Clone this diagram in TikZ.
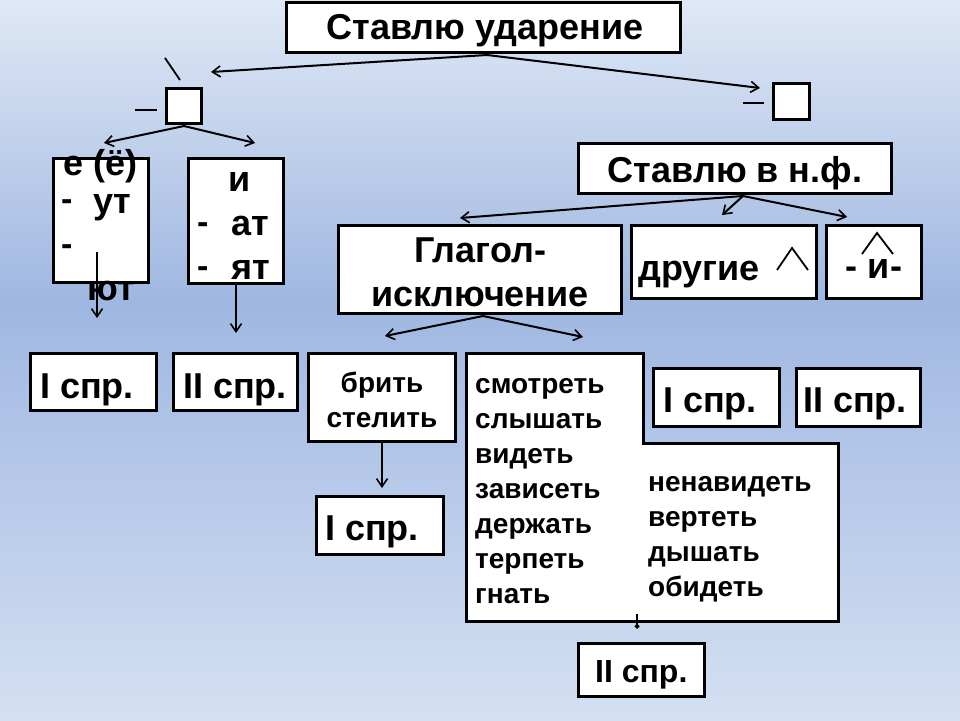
\documentclass[tikz,border=0pt]{standalone}
\usepackage{fontspec}
\setmainfont{Liberation Sans}
\usetikzlibrary{arrows.meta}
\definecolor{bgtop}{HTML}{DFE8F5}
\definecolor{bgmid}{HTML}{9FB7E1}
\definecolor{bgbot}{HTML}{D4E0F2}
\begin{document}
\begin{tikzpicture}[x=1pt,y=-1pt,
  box/.style={draw=black, line width=3pt, fill=white, inner sep=0pt, rectangle},
  big/.style={font=\bfseries\fontsize{36}{43}\selectfont, inner sep=0pt, text=black},
  dashf/.style={font=\bfseries\fontsize{34}{40}\selectfont, inner sep=0pt, text=black},
  midf/.style={font=\bfseries\fontsize{28}{35}\selectfont, inner sep=0pt, text=black},
  smallbig/.style={font=\bfseries\fontsize{32}{38}\selectfont, inner sep=0pt, text=black},
  con/.style={draw=black, line width=2pt, -{Straight Barb[length=8pt,width=11pt,line width=1.6pt]}},
  accline/.style={draw=black, line width=1.8pt}
]
\useasboundingbox (0,0) rectangle (960,720);
% background
\fill[top color=bgtop, bottom color=bgmid] (0,0) rectangle (960,300.5);
\fill[top color=bgmid, bottom color=bgbot] (0,300) rectangle (960,720);

% boxes
\node[box, minimum width=394pt, minimum height=50pt] (top) at (483.5,27.5) {};
\node[box, minimum width=35pt, minimum height=35pt] (sqL) at (184,106) {};
\node[box, minimum width=36pt, minimum height=36pt] (sqR) at (791.5,101.5) {};
\node[box, minimum width=95pt, minimum height=124pt] (boxE) at (101,220.5) {};
\node[box, minimum width=95pt, minimum height=125pt] (boxI) at (236,221) {};
\node[box, minimum width=126pt, minimum height=57pt] (sp1) at (93.5,382) {};
\node[box, minimum width=124pt, minimum height=57pt] (sp2) at (235.5,382) {};
\node[box, minimum width=313pt, minimum height=50pt] (nf) at (735,168.5) {};
\node[box, minimum width=283pt, minimum height=88pt] (glag) at (480,269.5) {};
\node[box, minimum width=185pt, minimum height=73pt] (drug) at (724,262) {};
\node[box, minimum width=95pt, minimum height=73pt] (ii) at (874,262) {};
\node[box, minimum width=147pt, minimum height=88pt] (brit) at (382,397.5) {};
\node[box, minimum width=127pt, minimum height=58pt] (sp3) at (380,525.5) {};
\node[box, minimum width=126pt, minimum height=58pt] (sp4) at (716.5,397.5) {};
\node[box, minimum width=124pt, minimum height=58pt] (sp5) at (858.5,397.5) {};
\node[box, minimum width=126pt, minimum height=53pt] (sp6) at (641.5,670) {};
% list shape
\filldraw[fill=white, draw=black, line width=3pt, line join=miter]
  (466.5,353.5) -- (643.5,353.5) -- (643.5,443.5) -- (838.5,443.5) -- (838.5,621.5) -- (466.5,621.5) -- cycle;

% texts
\node[big, anchor=base] (tTop) at (485,39) {Ставлю ударение};
\node[big, anchor=base west] (tE1) at (63,175) {е (ё)};
\node[dashf, anchor=base west] (tE2) at (61,210) {-};
\node[big, anchor=base west] (tE3) at (93,213) {ут};
\node[dashf, anchor=base west] (tE4) at (61,255) {-};
\node[big, anchor=base west] (tE5) at (87,300) {ют};
\node[big, anchor=base] (tI1) at (240,191) {и};
\node[dashf, anchor=base west] (tI2) at (197,233) {-};
\node[big, anchor=base west] (tI3) at (231,235) {ат};
\node[dashf, anchor=base west] (tI4) at (197,277) {-};
\node[big, anchor=base west] (tI5) at (231,279) {ят};
\node[big, anchor=base west] (tS1) at (40,398) {I спр.};
\node[big, anchor=base west] (tS2) at (183,398) {II спр.};
\node[big, anchor=base] (tNF) at (735,182) {Ставлю в н.ф.};
\node[big, anchor=base] (tG1) at (480,262) {Глагол-};
\node[big, anchor=base] (tG2) at (480,306) {исключение};
\node[big, anchor=base west] (tD) at (638,280) {другие};
\node[big, anchor=base] (tII) at (874,278) {- и-};
\node[midf, anchor=base] (tB1) at (382,392) {брить};
\node[midf, anchor=base] (tB2) at (382,427) {стелить};
\node[big, anchor=base west] (tS3) at (325,540) {I спр.};
\node[big, anchor=base west] (tS4) at (663,412) {I спр.};
\node[big, anchor=base west] (tS5) at (803,412) {II спр.};
\node[smallbig, anchor=base west] (tS6) at (595,682) {II спр.};
\node[midf, anchor=base west] (tL1) at (475,393) {смотреть};
\node[midf, anchor=base west] (tL2) at (475,428) {слышать};
\node[midf, anchor=base west] (tL3) at (475,463) {видеть};
\node[midf, anchor=base west] (tL4) at (475,498) {зависеть};
\node[midf, anchor=base west] (tL5) at (475,533) {держать};
\node[midf, anchor=base west] (tL6) at (475,568) {терпеть};
\node[midf, anchor=base west] (tL7) at (475,603) {гнать};
\node[midf, anchor=base west] (tR1) at (648,491) {ненавидеть};
\node[midf, anchor=base west] (tR2) at (648,526) {вертеть};
\node[midf, anchor=base west] (tR3) at (648,561) {дышать};
\node[midf, anchor=base west] (tR4) at (648,596) {обидеть};

% accent marks
\draw[accline] (165,58) -- (180,80);
\draw[accline] (135,110) -- (157,110);
\draw[accline] (743,103) -- (764,103);
\draw[accline] (777,270) -- (792,248) -- (808,270);
\draw[accline] (862,254) -- (877,233) -- (893,254);

% connector end points
\coordinate (topO) at (487,55);
\coordinate (aL) at (211,72);
\coordinate (aR) at (760,88);
\coordinate (sqO) at (184,126);
\coordinate (aE) at (104,143);
\coordinate (aI) at (255,143);
\coordinate (eS) at (97,252);
\coordinate (eT) at (97,318);
\coordinate (iT) at (236,333);
\coordinate (nfO) at (743,196);
\coordinate (aG) at (460,218);
\coordinate (aD) at (722,215);
\coordinate (aII) at (847,217);
\coordinate (gO) at (483,316);
\coordinate (aB) at (385,336);
\coordinate (aLst) at (583,337);
\coordinate (bT) at (382,488);
\coordinate (lS) at (637,614);
\coordinate (lT) at (637,629);

\draw[con] (topO) -- (aL);
\draw[con] (topO) -- (aR);
\draw[con] (sqO) -- (aE);
\draw[con] (sqO) -- (aI);
\draw[con] (eS) -- (eT);
\draw[con] (boxI.south) -- (iT);
\draw[con] (nfO) -- (aG);
\draw[con] (nfO) -- (aD);
\draw[con] (nfO) -- (aII);
\draw[con] (gO) -- (aB);
\draw[con] (gO) -- (aLst);
\draw[con] (brit.south) -- (bT);
\draw[draw=black, line width=2pt, -{Straight Barb[length=2pt,width=4pt]}] (lS) -- (lT);
\end{tikzpicture}
\end{document}
